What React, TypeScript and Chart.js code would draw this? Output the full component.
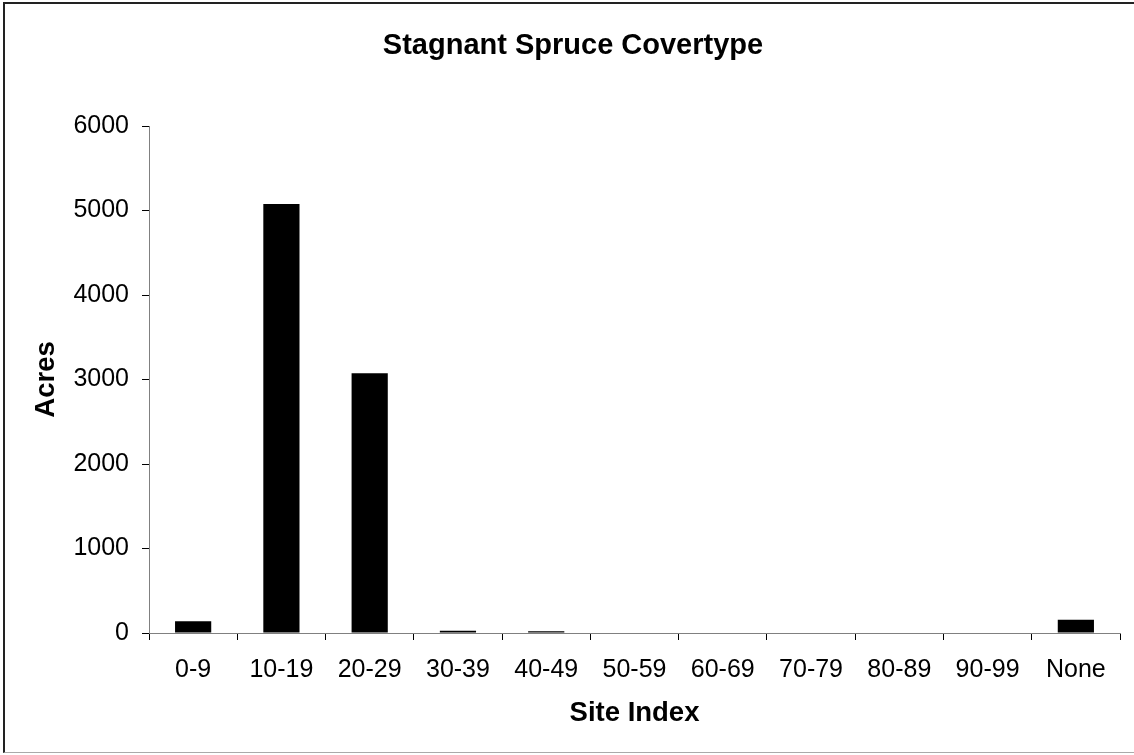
import React, { useEffect, useRef } from "react";
import { Chart, registerables } from "chart.js";

Chart.register(...registerables);

const categories = ["0-9", "10-19", "20-29", "30-39", "40-49", "50-59", "60-69", "70-79", "80-89", "90-99", "None"];
const acres = [139, 5076, 3075, 27, 22, 0, 0, 0, 0, 0, 157];
const yTicks = [0, 1000, 2000, 3000, 4000, 5000, 6000];

const FONT = "'Liberation Sans', Arial, Helvetica, sans-serif";

export default function App() {
  const ref = useRef<HTMLCanvasElement | null>(null);

  useEffect(() => {
    document.body.style.margin = "0";
    const ctx = ref.current!;
    const chart = new Chart(ctx, {
      type: "bar",
      data: {
        labels: categories,
        datasets: [
          {
            label: "Acres",
            data: acres,
            backgroundColor: "#000000",
            borderWidth: 0,
            barPercentage: 0.41,
            categoryPercentage: 1,
          },
        ],
      },
      options: {
        responsive: false,
        animation: false,
        devicePixelRatio: 1,
        layout: { padding: { left: 26, right: 14, top: 0, bottom: 0 } },
        plugins: {
          legend: { display: false },
          tooltip: { enabled: false },
          title: {
            display: true,
            text: "Stagnant Spruce Covertype",
            color: "#000",
            font: { family: FONT, size: 29, weight: "bold" },
            padding: { top: 28.6, bottom: 62.6 },
          },
        },
        scales: {
          x: {
            type: "category",
            offset: true,
            border: { display: true, color: "#808080", width: 1 },
            grid: {
              offset: true,
              drawOnChartArea: false,
              drawTicks: true,
              tickLength: 7,
              color: "#000",
              tickColor: "#000",
            },
            ticks: {
              color: "#000",
              font: { family: FONT, size: 25 },
              padding: 15,
              maxRotation: 0,
              autoSkip: false,
            },
            title: {
              display: true,
              text: "Site Index",
              color: "#000",
              font: { family: FONT, size: 27.5, weight: "bold" },
              padding: { top: 0, bottom: 25 },
            },
            afterFit: (s: any) => {
              s.height = 122;
            },
          },
          y: {
            min: 0,
            max: 6000,
            border: { display: true, color: "#808080", width: 1 },
            grid: {
              drawOnChartArea: false,
              drawTicks: true,
              tickLength: 7,
              color: "#000",
              tickColor: "#000",
            },
            afterBuildTicks: (s: any) => {
              s.ticks = yTicks.map((v) => ({ value: v }));
            },
            ticks: {
              color: "#000",
              font: { family: FONT, size: 25 },
              padding: 13,
              callback: (v: any) => String(v),
            },
            title: {
              display: true,
              text: "Acres",
              color: "#000",
              font: { family: FONT, size: 27.5, weight: "bold" },
              padding: { top: 4, bottom: 0 },
            },
            afterFit: (s: any) => {
              s.width = 123;
            },
          },
        },
      },
    });
    return () => chart.destroy();
  }, []);

  return (
    <div style={{ position: "relative", width: 1134, height: 755, background: "#fff" }}>
      <canvas ref={ref} width={1134} height={755} style={{ position: "absolute", left: 0, top: 0 }} />
      <div
        style={{
          position: "absolute",
          left: 3,
          top: 2,
          width: 1131,
          height: 751,
          borderTop: "2px solid #222",
          borderLeft: "2px solid #222",
          borderBottom: "1px solid #aaa",
          boxSizing: "border-box",
          pointerEvents: "none",
        }}
      />
    </div>
  );
}
